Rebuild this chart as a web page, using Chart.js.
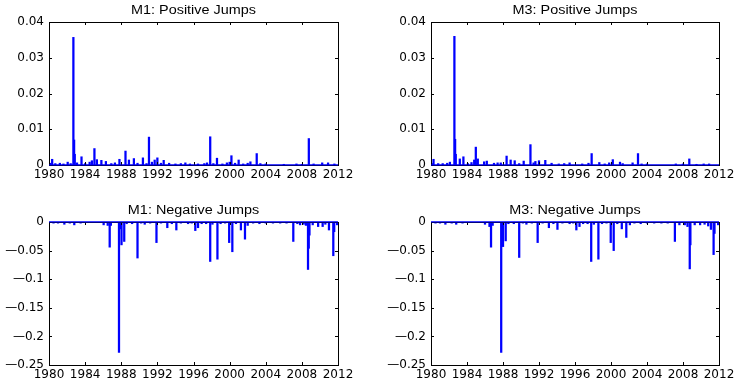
<!DOCTYPE html>
<html>
<head>
<meta charset="utf-8">
<script src="https://cdn.jsdelivr.net/npm/chart.js@4.4.1/dist/chart.umd.min.js"></script>
<style>
  html, body { margin: 0; padding: 0; background: #fff; }
  #wrap { position: relative; width: 738px; height: 380px; overflow: hidden; }
  .panel { position: absolute; width: 369px; height: 190px; }
</style>
</head>
<body>
<div id="wrap">
  <div class="panel" style="left:0;top:0"><canvas id="m1pos"></canvas></div>
  <div class="panel" style="left:369px;top:0"><canvas id="m3pos"></canvas></div>
  <div class="panel" style="left:0;top:190px"><canvas id="m1neg"></canvas></div>
  <div class="panel" style="left:369px;top:190px"><canvas id="m3neg"></canvas></div>
</div>
<script>
// tick labels
const yearTicks = [1980, 1984, 1988, 1992, 1996, 2000, 2004, 2008, 2012];
const posTicks = [0, 0.01, 0.02, 0.03, 0.04];
const negTicks = [-0.25, -0.2, -0.15, -0.1, -0.05, 0];

// M1 positive jumps (date as decimal year, size)
const m1PosYears = [1980.1, 1980.35, 1980.7, 1981.2, 1981.6, 1982.07, 1982.4, 1982.7, 1982.78, 1982.85, 1983.1, 1983.6, 1984.0, 1984.5, 1984.75,
  1985.03, 1985.3, 1985.8, 1986.3, 1986.9, 1987.3, 1987.8, 1988.47, 1988.85, 1989.4, 1989.8, 1990.4, 1990.8, 1991.07, 1991.4, 1991.7,
  1992.0, 1992.4, 1992.7, 1993.3, 1994.0, 1994.6, 1995.1, 1995.6, 1996.5, 1997.2, 1997.5, 1997.85, 1998.2, 1998.6, 1999.2, 1999.7,
  2000.0, 2000.2, 2000.6, 2001.0, 2001.5, 2002.0, 2002.3, 2003.0, 2003.4, 2004.0, 2006.0, 2007.4, 2008.0, 2008.77, 2009.3, 2010.25,
  2010.9, 2011.6];
const m1PosValues = [0.0005, 0.0016, 0.0004, 0.0005, 0.0003, 0.0008, 0.0004, 0.0357, 0.0070, 0.0030, 0.0006, 0.0023, 0.0004, 0.0008, 0.0012,
  0.0046, 0.0015, 0.0013, 0.0010, 0.0004, 0.0006, 0.0016, 0.0039, 0.0014, 0.0018, 0.0005, 0.0020, 0.0004, 0.0078, 0.0008, 0.0014,
  0.0020, 0.0005, 0.0013, 0.0005, 0.0003, 0.0004, 0.0006, 0.0003, 0.0003, 0.0004, 0.0006, 0.0079, 0.0004, 0.0019, 0.0003, 0.0006,
  0.0008, 0.0026, 0.0005, 0.0014, 0.0003, 0.0005, 0.0009, 0.0032, 0.0004, 0.0003, 0.0002, 0.0003, 0.0002, 0.0074, 0.0003, 0.0006,
  0.0006, 0.0003];

// M3 positive jumps
const m3PosYears = [1980.1, 1980.28, 1980.8, 1981.3, 1981.8, 1982.1, 1982.6, 1982.68, 1982.75, 1983.2, 1983.6, 1984.1, 1984.5, 1984.8,
  1984.98, 1985.2, 1985.9, 1986.2, 1987.0, 1987.4, 1987.75, 1988.4, 1988.85, 1989.3, 1989.8, 1990.3, 1991.05, 1991.4, 1991.6, 1992.0,
  1992.7, 1993.4, 1994.2, 1994.8, 1995.4, 1996.8, 1997.5, 1997.85, 1998.7, 1999.3, 1999.8, 2000.2, 2001.0, 2001.3, 2002.4, 2003.0,
  2003.4, 2004.0, 2007.2, 2008.0, 2008.7, 2009.5, 2010.3, 2010.9];
const m3PosValues = [0.0004, 0.0016, 0.0004, 0.0004, 0.0005, 0.0008, 0.0360, 0.0072, 0.0030, 0.0017, 0.0023, 0.0004, 0.0007, 0.0014,
  0.0050, 0.0017, 0.0009, 0.0011, 0.0005, 0.0006, 0.0006, 0.0025, 0.0014, 0.0012, 0.0004, 0.0011, 0.0057, 0.0006, 0.0010, 0.0012,
  0.0013, 0.0005, 0.0003, 0.0004, 0.0006, 0.0003, 0.0005, 0.0032, 0.0007, 0.0003, 0.0006, 0.0015, 0.0008, 0.0004, 0.0006, 0.0032,
  0.0003, 0.0003, 0.0003, 0.0003, 0.0017, 0.0002, 0.0003, 0.0003];

// M1 negative jumps
const m1NegYears = [1980.5, 1981.0, 1981.7, 1982.3, 1982.8, 1983.5, 1984.2, 1985.5, 1986.05, 1986.5, 1986.72, 1986.85, 1987.75, 1987.85,
  1988.03, 1988.33, 1988.6, 1989.2, 1989.8, 1990.2, 1990.6, 1991.2, 1991.9, 1992.4, 1993.1, 1993.6, 1994.1, 1994.6, 1995.4, 1995.8,
  1996.2, 1996.5, 1996.9, 1997.4, 1997.85, 1998.1, 1998.65, 1999.0, 1999.5, 1999.95, 2000.3, 2000.7, 2001.25, 2001.7, 2002.0, 2002.6,
  2003.3, 2004.0, 2004.8, 2005.6, 2006.3, 2007.05, 2007.5, 2007.8, 2008.2, 2008.45, 2008.68, 2008.76, 2008.84, 2009.2, 2009.8, 2010.3,
  2010.6, 2011.0, 2011.48, 2011.58, 2011.9];
const m1NegValues = [-0.002, -0.002, -0.004, -0.002, -0.005, -0.002, -0.001, -0.001, -0.005, -0.006, -0.044, -0.006, -0.228, -0.012,
  -0.040, -0.034, -0.003, -0.003, -0.063, -0.002, -0.004, -0.002, -0.036, -0.002, -0.010, -0.003, -0.014, -0.002, -0.003, -0.002,
  -0.015, -0.010, -0.003, -0.003, -0.069, -0.004, -0.065, -0.003, -0.002, -0.036, -0.052, -0.003, -0.014, -0.030, -0.006, -0.002,
  -0.003, -0.002, -0.002, -0.002, -0.002, -0.034, -0.003, -0.005, -0.004, -0.006, -0.083, -0.046, -0.023, -0.005, -0.008, -0.008,
  -0.004, -0.014, -0.059, -0.017, -0.005];

// M3 negative jumps
const m3NegYears = [1980.5, 1981.0, 1981.6, 1982.3, 1982.8, 1983.5, 1984.2, 1985.6, 1986.0, 1986.5, 1986.67, 1986.85, 1987.8, 1987.9,
  1988.0, 1988.3, 1988.6, 1989.2, 1989.8, 1990.2, 1990.6, 1991.2, 1991.85, 1992.4, 1993.1, 1993.6, 1994.05, 1994.6, 1995.4, 1995.8,
  1996.15, 1996.5, 1996.9, 1997.4, 1997.8, 1998.1, 1998.6, 1999.0, 1999.5, 1999.97, 2000.3, 2000.7, 2001.2, 2001.7, 2002.1, 2002.6,
  2003.3, 2004.0, 2004.8, 2005.6, 2006.3, 2007.1, 2007.6, 2008.2, 2008.5, 2008.75, 2008.82, 2009.3, 2009.9, 2010.4, 2010.8, 2011.1,
  2011.4, 2011.5, 2011.9];
const m3NegValues = [-0.002, -0.002, -0.004, -0.002, -0.004, -0.002, -0.001, -0.001, -0.004, -0.008, -0.044, -0.006, -0.228, -0.012,
  -0.043, -0.033, -0.003, -0.003, -0.062, -0.002, -0.004, -0.002, -0.036, -0.002, -0.010, -0.003, -0.013, -0.002, -0.003, -0.002,
  -0.014, -0.008, -0.003, -0.003, -0.069, -0.004, -0.065, -0.003, -0.002, -0.036, -0.050, -0.003, -0.012, -0.027, -0.005, -0.002,
  -0.003, -0.002, -0.002, -0.002, -0.002, -0.034, -0.005, -0.005, -0.008, -0.082, -0.040, -0.005, -0.005, -0.004, -0.007, -0.013,
  -0.057, -0.020, -0.005];

const blue = '#0000ff';
const tickFont = { family: '"DejaVu Sans"', size: 12 };

// Title drawn above the plot area, stretched a bit like the matlab output
const titlePlugin = {
  id: 'panelTitle',
  afterDraw(chart, args, opts) {
    const ctx = chart.ctx;
    const a = chart.chartArea;
    ctx.save();
    ctx.font = '12px "Liberation Sans"';
    ctx.fillStyle = '#000';
    ctx.textAlign = 'center';
    ctx.textBaseline = 'middle';
    ctx.translate((a.left + a.right) / 2, a.top - 11);
    ctx.scale(1.2, 1);
    ctx.fillText(opts.text, 0, 0);
    ctx.restore();
  }
};

// Black box round the axes with inward ticks on all four sides,
// then the zero line is drawn again so it sits over the box like in matlab
const boxPlugin = {
  id: 'matlabBox',
  afterDraw(chart) {
    const ctx = chart.ctx;
    const a = chart.chartArea;
    const x = chart.scales.x;
    const y = chart.scales.y;
    const len = 3;
    ctx.save();
    ctx.strokeStyle = '#000';
    ctx.lineWidth = 1;
    ctx.strokeRect(Math.round(a.left) + 0.5, Math.round(a.top) + 0.5,
      Math.round(a.right - a.left), Math.round(a.bottom - a.top));
    ctx.beginPath();
    y.ticks.forEach(t => {
      const py = Math.round(y.getPixelForValue(t.value)) + 0.5;
      ctx.moveTo(a.left, py); ctx.lineTo(a.left + len, py);
      ctx.moveTo(a.right, py); ctx.lineTo(a.right - len, py);
    });
    x.ticks.forEach(t => {
      const px = Math.round(x.getPixelForValue(t.value)) + 0.5;
      ctx.moveTo(px, a.bottom); ctx.lineTo(px, a.bottom - len);
      ctx.moveTo(px, a.top); ctx.lineTo(px, a.top + len);
    });
    ctx.stroke();
    ctx.restore();
    const zeroLine = chart.getDatasetMeta(0).dataset;
    if (zeroLine) zeroLine.draw(ctx, a);
  }
};

// matlab prints the minus as a long dash
function formatY(v) {
  if (v === 0) return '0';
  const s = String(+Math.abs(v).toFixed(2));
  return v < 0 ? '\u2014' + s : s;
}

// builds one subplot; area is the plot box inside the 369x190 panel
function makePanel(id, title, years, values, yTicks, area) {
  const W = 369, H = 190;
  const points = years.map((yr, i) => ({ x: yr, y: values[i] }));
  new Chart(document.getElementById(id), {
    type: 'bar',
    data: {
      datasets: [
        {
          type: 'line',
          data: [{ x: yearTicks[0], y: 0 }, { x: yearTicks[yearTicks.length - 1], y: 0 }],
          borderColor: blue,
          borderWidth: 1.2,
          pointRadius: 0,
          clip: false
        },
        {
          data: points,
          backgroundColor: blue,
          borderWidth: 0,
          barThickness: 1.6
        }
      ]
    },
    options: {
      responsive: true,
      maintainAspectRatio: false,
      animation: false,
      layout: { padding: { top: area.top, right: W - area.right, left: 0, bottom: 0 } },
      plugins: {
        legend: { display: false },
        tooltip: { enabled: false },
        panelTitle: { text: title }
      },
      scales: {
        x: {
          type: 'linear',
          offset: false,
          min: yearTicks[0],
          max: yearTicks[yearTicks.length - 1],
          grid: { display: false, drawTicks: false },
          border: { display: false },
          afterBuildTicks: s => { s.ticks = yearTicks.map(v => ({ value: v })); },
          afterFit: s => { s.height = H - area.bottom; },
          ticks: {
            font: tickFont, color: '#000', padding: 3, maxRotation: 0, autoSkip: false,
            callback: v => String(v)
          }
        },
        y: {
          min: yTicks[0],
          max: yTicks[yTicks.length - 1],
          grid: { display: false, drawTicks: false },
          border: { display: false },
          afterBuildTicks: s => { s.ticks = yTicks.map(v => ({ value: v })); },
          afterFit: s => { s.width = area.left; },
          ticks: { font: tickFont, color: '#000', padding: 5, callback: formatY }
        }
      }
    },
    plugins: [boxPlugin, titlePlugin]
  });
}

makePanel('m1pos', 'M1: Positive Jumps', m1PosYears, m1PosValues, posTicks, { left: 49, top: 22, right: 338, bottom: 165 });
makePanel('m3pos', 'M3: Positive Jumps', m3PosYears, m3PosValues, posTicks, { left: 62, top: 22, right: 350, bottom: 165 });
makePanel('m1neg', 'M1: Negative Jumps', m1NegYears, m1NegValues, negTicks, { left: 49, top: 32, right: 338, bottom: 175 });
makePanel('m3neg', 'M3: Negative Jumps', m3NegYears, m3NegValues, negTicks, { left: 62, top: 32, right: 350, bottom: 175 });
</script>
</body>
</html>
